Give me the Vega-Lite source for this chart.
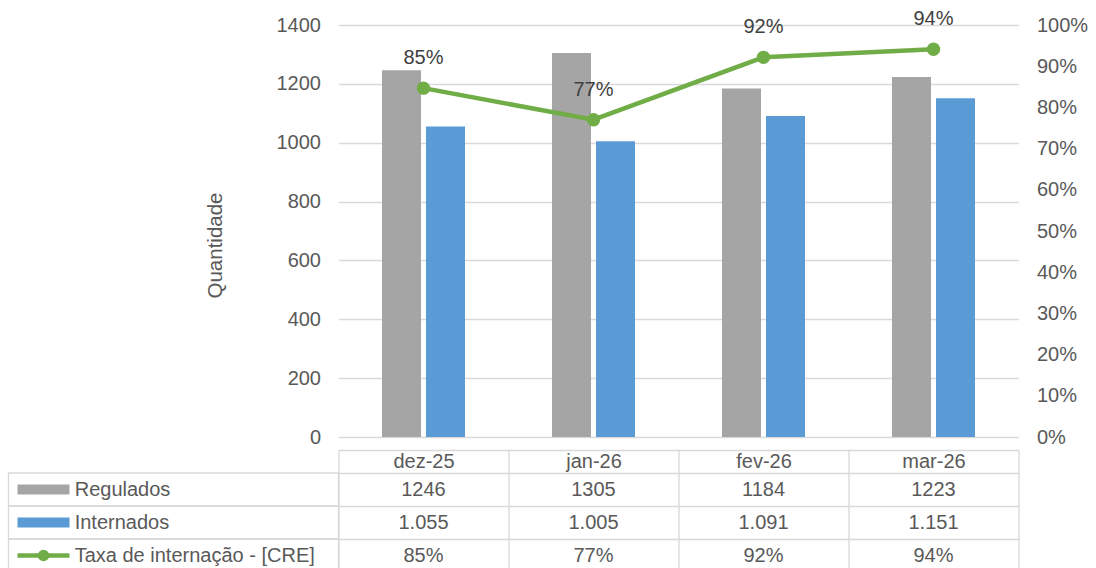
{
  "$schema": "https://vega.github.io/schema/vega-lite/v6.json",
  "padding": {"left": 7.5, "top": 9, "right": 5, "bottom": 0},
  "background": "white",
  "config": {
    "view": {"stroke": null},
    "font": "Liberation Sans",
    "locale": {"number": {"decimal": ",", "thousands": ".", "grouping": [3], "currency": ["R$", ""]}}
  },
  "datasets": {
    "mensal": [
      {"mes": "dez-25", "Regulados": 1246, "Internados": 1055, "Taxa": 0.8467},
      {"mes": "jan-26", "Regulados": 1305, "Internados": 1005, "Taxa": 0.7701},
      {"mes": "fev-26", "Regulados": 1184, "Internados": 1091, "Taxa": 0.9215},
      {"mes": "mar-26", "Regulados": 1223, "Internados": 1151, "Taxa": 0.9411}
    ],
    "series": [
      {"serie": "Regulados"},
      {"serie": "Internados"},
      {"serie": "Taxa de internação - [CRE]"}
    ],
    "vazio": []
  },
  "columns": 2,
  "spacing": {"row": 36, "column": 0},
  "bounds": "flush",
  "concat": [
    {
      "width": 330,
      "height": 412,
      "data": {"name": "vazio"},
      "mark": {"type": "rect"},
      "encoding": {}
    },
    {
      "width": 680,
      "height": 412,
      "data": {"name": "mensal"},
      "encoding": {
        "x": {
          "field": "mes", "type": "nominal",
          "sort": ["dez-25", "jan-26", "fev-26", "mar-26"],
          "scale": {"paddingInner": 0, "paddingOuter": 0},
          "axis": {
            "orient": "bottom", "offset": 13, "title": null,
            "tickBand": "extent", "tickSize": 23, "tickColor": "#d9d9d9", "tickWidth": 1.3,
            "domainColor": "#d9d9d9", "domainWidth": 1.3,
            "labelFontSize": 20, "labelColor": "#595959", "labelPadding": -11.5,
            "labelBaseline": "middle", "labelAngle": 0
          }
        }
      },
      "layer": [
        {
          "transform": [{"fold": ["Regulados", "Internados"], "as": ["serie", "valor"]}],
          "mark": {"type": "bar"},
          "encoding": {
            "xOffset": {"field": "serie", "type": "nominal", "sort": ["Regulados", "Internados"], "scale": {"paddingInner": 0.1136, "paddingOuter": 0.9886}},
            "y": {
              "field": "valor", "type": "quantitative",
              "scale": {"domain": [0, 1400]},
              "axis": {
                "values": [0, 200, 400, 600, 800, 1000, 1200, 1400], "format": "d",
                "title": "Quantidade", "titleFontSize": 20.5, "titleFontWeight": "normal", "titleColor": "#595959", "titlePadding": 51, "titleY": 220,
                "labelFontSize": 20, "labelColor": "#595959", "labelPadding": 18,
                "ticks": false, "tickSize": 0, "domain": false,
                "grid": true, "gridColor": "#d9d9d9", "gridWidth": 1.3
              }
            },
            "color": {"field": "serie", "type": "nominal", "scale": {"domain": ["Regulados", "Internados"], "range": ["#a5a5a5", "#5b9bd5"]}, "legend": null}
          }
        },
        {
          "encoding": {
            "y": {
              "field": "Taxa", "type": "quantitative",
              "scale": {"domain": [0, 1]},
              "axis": {
                "orient": "right", "format": ".0%", "values": [0, 0.1, 0.2, 0.3, 0.4, 0.5, 0.6, 0.7, 0.8, 0.9, 1],
                "title": null, "labelFontSize": 20, "labelColor": "#595959", "labelPadding": 18,
                "ticks": false, "tickSize": 0, "domain": false, "grid": false
              }
            }
          },
          "layer": [
            {
              "mark": {"type": "line", "color": "#70ad47", "strokeWidth": 4.5, "point": {"filled": true, "size": 180, "color": "#70ad47", "opacity": 1}}
            },
            {
              "mark": {"type": "text", "dy": -30, "fontSize": 20, "color": "#404040", "baseline": "middle"},
              "encoding": {"text": {"field": "Taxa", "type": "quantitative", "format": ".0%"}}
            }
          ]
        }
      ],
      "resolve": {"scale": {"y": "independent"}}
    },
    {
      "width": 330,
      "height": 99,
      "data": {"name": "series"},
      "encoding": {
        "y": {
          "field": "serie", "type": "nominal",
          "sort": ["Regulados", "Internados", "Taxa de internação - [CRE]"],
          "scale": {"paddingInner": 0, "paddingOuter": 0},
          "axis": null
        }
      },
      "layer": [
        {
          "mark": {"type": "rect", "fillOpacity": 0, "stroke": "#d9d9d9", "strokeWidth": 1.3}
        },
        {
          "transform": [{"filter": "datum.serie === 'Regulados'"}],
          "mark": {"type": "bar", "height": 10, "color": "#a5a5a5"},
          "encoding": {
            "x": {"datum": "símbolo", "type": "nominal", "scale": {"domain": ["símbolo"], "paddingInner": 0.626, "paddingOuter": 1, "align": 0.0324}, "axis": null}
          }
        },
        {
          "transform": [{"filter": "datum.serie === 'Internados'"}],
          "mark": {"type": "bar", "height": 10, "color": "#5b9bd5"},
          "encoding": {
            "x": {"datum": "símbolo", "type": "nominal", "scale": {"domain": ["símbolo"], "paddingInner": 0.626, "paddingOuter": 1, "align": 0.0324}, "axis": null}
          }
        },
        {
          "transform": [{"filter": "datum.serie === 'Taxa de internação - [CRE]'"}],
          "mark": {"type": "bar", "height": 4.5, "color": "#70ad47"},
          "encoding": {
            "x": {"datum": "símbolo", "type": "nominal", "scale": {"domain": ["símbolo"], "paddingInner": 0.626, "paddingOuter": 1, "align": 0.0324}, "axis": null}
          }
        },
        {
          "transform": [{"filter": "datum.serie === 'Taxa de internação - [CRE]'"}],
          "mark": {"type": "point", "filled": true, "opacity": 1, "size": 130, "color": "#70ad47", "shape": "circle"},
          "encoding": {
            "x": {"datum": "símbolo", "type": "nominal", "scale": {"domain": ["símbolo"], "paddingInner": 0.626, "paddingOuter": 1, "align": 0.0324}, "axis": null}
          }
        },
        {
          "mark": {"type": "text", "align": "left", "baseline": "middle", "fontSize": 20, "color": "#595959"},
          "encoding": {
            "x": {"datum": "símbolo", "type": "nominal", "bandPosition": 1.1, "scale": {"domain": ["símbolo"], "paddingInner": 0.626, "paddingOuter": 1, "align": 0.0324}, "axis": null},
            "text": {"field": "serie", "type": "nominal"}
          }
        }
      ]
    },
    {
      "width": 680,
      "height": 99,
      "data": {"name": "mensal"},
      "encoding": {
        "x": {
          "field": "mes", "type": "nominal",
          "sort": ["dez-25", "jan-26", "fev-26", "mar-26"],
          "scale": {"paddingInner": 0, "paddingOuter": 0},
          "axis": {"title": null, "labels": false, "ticks": false, "domain": false, "grid": true, "tickBand": "extent", "gridColor": "#d9d9d9", "gridWidth": 1.3}
        }
      },
      "layer": [
        {
          "mark": {"type": "text", "fontSize": 20, "color": "#595959", "baseline": "middle"},
          "encoding": {
            "y": {"datum": "Regulados", "type": "nominal", "scale": {"domain": ["Regulados", "Internados", "Taxa"], "paddingInner": 0, "paddingOuter": 0}, "axis": {"title": null, "labels": false, "ticks": false, "domain": false, "grid": true, "tickBand": "extent", "gridColor": "#d9d9d9", "gridWidth": 1.3}},
            "text": {"field": "Regulados", "type": "quantitative", "format": "d"}
          }
        },
        {
          "mark": {"type": "text", "fontSize": 20, "color": "#595959", "baseline": "middle"},
          "encoding": {
            "y": {"datum": "Internados", "type": "nominal", "scale": {"domain": ["Regulados", "Internados", "Taxa"], "paddingInner": 0, "paddingOuter": 0}, "axis": {"title": null, "labels": false, "ticks": false, "domain": false, "grid": true, "tickBand": "extent", "gridColor": "#d9d9d9", "gridWidth": 1.3}},
            "text": {"field": "Internados", "type": "quantitative", "format": ",d"}
          }
        },
        {
          "mark": {"type": "text", "fontSize": 20, "color": "#595959", "baseline": "middle"},
          "encoding": {
            "y": {"datum": "Taxa", "type": "nominal", "scale": {"domain": ["Regulados", "Internados", "Taxa"], "paddingInner": 0, "paddingOuter": 0}, "axis": {"title": null, "labels": false, "ticks": false, "domain": false, "grid": true, "tickBand": "extent", "gridColor": "#d9d9d9", "gridWidth": 1.3}},
            "text": {"field": "Taxa", "type": "quantitative", "format": ".0%"}
          }
        }
      ]
    }
  ]
}
